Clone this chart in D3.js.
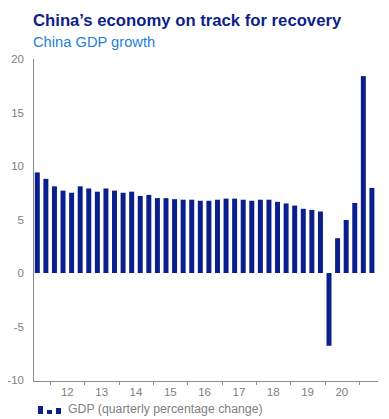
<!DOCTYPE html>
<html>
<head>
<meta charset="utf-8">
<script src="https://cdn.jsdelivr.net/npm/d3@7"></script>
<style>
  body { margin: 0; background: #fff; }
  svg { display: block; font-family: "Liberation Sans", Arial, sans-serif; }
</style>
</head>
<body>
<svg id="chart" width="389" height="419"></svg>
<script>
// quarters from 2011 Q3 to 2021 Q2
const quarters = [
  '2011Q3', '2011Q4',
  '2012Q1', '2012Q2', '2012Q3', '2012Q4',
  '2013Q1', '2013Q2', '2013Q3', '2013Q4',
  '2014Q1', '2014Q2', '2014Q3', '2014Q4',
  '2015Q1', '2015Q2', '2015Q3', '2015Q4',
  '2016Q1', '2016Q2', '2016Q3', '2016Q4',
  '2017Q1', '2017Q2', '2017Q3', '2017Q4',
  '2018Q1', '2018Q2', '2018Q3', '2018Q4',
  '2019Q1', '2019Q2', '2019Q3', '2019Q4',
  '2020Q1', '2020Q2', '2020Q3', '2020Q4',
  '2021Q1', '2021Q2'
];

const gdpGrowth = [
  9.4, 8.8,
  8.1, 7.7, 7.5, 8.1,
  7.9, 7.6, 7.9, 7.7,
  7.5, 7.6, 7.2, 7.3,
  7.0, 7.0, 6.9, 6.85,
  6.85, 6.75, 6.75, 6.85,
  6.95, 6.95, 6.85, 6.75,
  6.85, 6.85, 6.65, 6.5,
  6.3, 6.0, 5.9, 5.75,
  -6.8, 3.25, 4.95, 6.55,
  18.4, 7.95
];

const yearTicks = ['2012Q1', '2013Q1', '2014Q1', '2015Q1', '2016Q1', '2017Q1', '2018Q1', '2019Q1', '2020Q1', '2021Q1'];
const yearLabels = ['12', '13', '14', '15', '16', '17', '18', '19', '20'];
const yTicks = [-10, -5, 0, 5, 10, 15, 20];

const data = quarters.map((q, i) => ({ q, value: gdpGrowth[i] }));

const svg = d3.select('#chart');

const margin = { top: 59, right: 11, bottom: 38, left: 33 };
const height = 419;
const plotRight = 376.2;
const plotBottom = height - margin.bottom; // 381

// Scales
const xScale = d3.scaleBand()
  .domain(quarters)
  .range([margin.left, plotRight])
  .paddingInner(0.42)
  .paddingOuter(0.21);

const step = xScale.step();
// start of a quarter's slot (slot = step wide, centred on the bar)
const slotStart = q => xScale(q) + xScale.bandwidth() / 2 - step / 2;

const yScale = d3.scaleLinear()
  .domain([-10, 20])
  .range([plotBottom - 1, margin.top]);

// Title
svg.append('text')
  .attr('x', 33)
  .attr('y', 26)
  .attr('fill', '#0d1f8c')
  .attr('font-size', 16.7)
  .attr('font-weight', 'bold')
  .text('China\u2019s economy on track for recovery');

svg.append('text')
  .attr('x', 33)
  .attr('y', 47)
  .attr('fill', '#1f7fd6')
  .attr('font-size', 14.7)
  .text('China GDP growth');

// Y axis
const yAxis = d3.axisLeft(yScale)
  .tickValues(yTicks)
  .tickSize(0)
  .tickPadding(9)
  .tickFormat(d => d);

const yG = svg.append('g')
  .attr('transform', `translate(${margin.left},0)`)
  .call(yAxis);
yG.select('.domain').attr('stroke', '#8a8a8a').attr('d', `M0.5,${margin.top}V${plotBottom}`);
yG.selectAll('text')
  .attr('fill', '#808080')
  .attr('font-size', 11.5)
  .attr('font-family', '"Liberation Sans", Arial, sans-serif');

// X axis line
svg.append('line')
  .attr('x1', margin.left)
  .attr('x2', 378)
  .attr('y1', plotBottom + 0.5)
  .attr('y2', plotBottom + 0.5)
  .attr('stroke', '#8a8a8a');

// year ticks
svg.selectAll('.year-tick')
  .data(yearTicks)
  .enter()
  .append('line')
  .attr('class', 'year-tick')
  .attr('x1', d => Math.round(slotStart(d)) + 0.5)
  .attr('x2', d => Math.round(slotStart(d)) + 0.5)
  .attr('y1', plotBottom)
  .attr('y2', plotBottom + 4)
  .attr('stroke', '#8a8a8a');

svg.selectAll('.year-label')
  .data(yearLabels)
  .enter()
  .append('text')
  .attr('class', 'year-label')
  .attr('x', (d, i) => (slotStart(yearTicks[i]) + slotStart(yearTicks[i + 1])) / 2)
  .attr('y', 396)
  .attr('text-anchor', 'middle')
  .attr('fill', '#808080')
  .attr('font-size', 11.5)
  .text(d => d);

// Bars
svg.selectAll('.bar')
  .data(data)
  .enter()
  .append('rect')
  .attr('class', 'bar')
  .attr('x', d => xScale(d.q))
  .attr('width', xScale.bandwidth())
  .attr('y', d => yScale(Math.max(0, d.value)))
  .attr('height', d => Math.abs(yScale(d.value) - yScale(0)))
  .attr('fill', '#0a1e8c');

// Legend
const legend = svg.append('g').attr('transform', 'translate(38,414)');
[[0, 8], [9, 4], [18, 6]].forEach(([dx, h]) => {
  legend.append('rect')
    .attr('x', dx)
    .attr('y', -h)
    .attr('width', 5)
    .attr('height', h)
    .attr('fill', '#0a1e8c');
});
legend.append('text')
  .attr('x', 30)
  .attr('y', -1)
  .attr('fill', '#808080')
  .attr('font-size', 12.3)
  .text('GDP (quarterly percentage change)');
</script>
</body>
</html>
